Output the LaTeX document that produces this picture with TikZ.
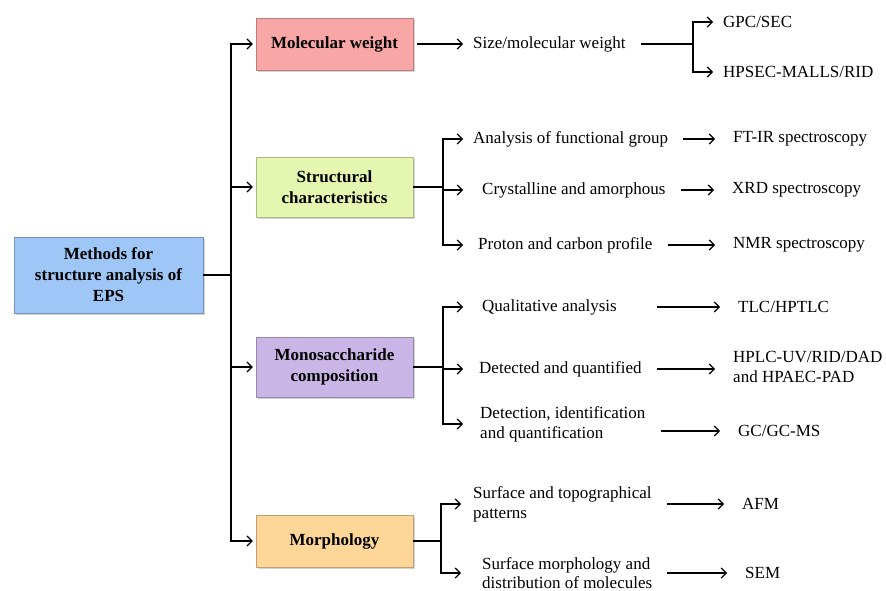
\documentclass[tikz,border=0pt]{standalone}
\usepackage{fontspec}
\setmainfont{Liberation Serif}
\usetikzlibrary{shadows,arrows.meta}
\definecolor{mainblue}{RGB}{158,198,246}
\definecolor{mwpink}{RGB}{249,166,166}
\definecolor{stgreen}{RGB}{228,246,176}
\definecolor{molilac}{RGB}{202,182,230}
\definecolor{mporange}{RGB}{253,214,152}

\begin{document}
\begin{tikzpicture}[x=1pt,y=-1pt,font=\fontsize{17}{20}\selectfont,
    box/.style={draw=#1!75!black,line width=0.4pt,fill=#1,align=center,
      font=\fontsize{17}{21}\selectfont\bfseries,
      minimum width=157pt,minimum height=52pt,inner sep=2pt,
      drop shadow={opacity=0.35,shadow xshift=1.5pt,shadow yshift=-2pt}},
    txt/.style={anchor=west,align=left,inner sep=3pt},
    con/.style={line width=1.2pt},
    arr/.style={con,-{Straight Barb[length=5pt,width=10pt]}},
    res/.style={arr,shorten <=12pt,shorten >=15pt}]
          \useasboundingbox (0,0) rectangle (886,591);
          \node[box=mainblue,minimum width=189pt,minimum height=76pt] (main) at (108.5,275) {Methods for\\structure analysis of\\EPS};
          \node[box=mwpink] (mw) at (334.5,44) {Molecular weight};
          \node[box=stgreen,minimum height=60pt] (st) at (334.5,187) {Structural\\characteristics};
          \node[box=molilac,minimum height=60pt] (mo) at (334.5,367) {Monosaccharide\\composition};
          \node[box=mporange] (mp) at (334.5,541) {Morphology};
          \coordinate (tr) at (231,275);
          \draw[con] (main.east) -- (tr);
          \foreach \b in {mw,st,mo,mp}
            \draw[arr,shorten >=3pt] (tr) |- (\b.west);
          \node[txt] (sz) at (470,44) {Size/molecular weight};
          \node[txt] (gpc) at (720,22) {GPC/SEC};
          \node[txt] (hp) at (720,72) {HPSEC-MALLS/RID};
          \coordinate (b1) at (693,44);
          \draw[arr,shorten <=4pt,shorten >=7pt] (mw.east) -- (sz.west);
          \draw[con,shorten <=12pt] (sz.east) -- (b1);
          \foreach \t in {gpc,hp}
            \draw[arr] (b1) |- ([xshift=20pt]b1 |- \t.west);
          \node[txt] (fg) at (470,139) {Analysis of functional group};
          \node[txt] (cr) at (479,190) {Crystalline and amorphous};
          \node[txt] (pr) at (475,245) {Proton and carbon profile};
          \node[txt] (ft) at (730,139) {FT-IR spectroscopy};
          \node[txt] (xr) at (729,190) {XRD spectroscopy};
          \node[txt] (nm) at (730,245) {NMR spectroscopy};
          \coordinate (b2) at (443,187);
          \draw[con] (st.east) -- (b2);
          \foreach \t in {fg,cr,pr}
            \draw[arr] (b2) |- ([xshift=20pt]b2 |- \t.west);
          \draw[res] (fg) -- (ft);
          \draw[res] (cr) -- (xr);
          \draw[res] (pr) -- (nm);
          \node[txt] (ql) at (479,307) {Qualitative analysis};
          \node[txt] (dq) at (476,369) {Detected and quantified};
          \node[txt] (dt) at (477,424) {Detection, identification\\and quantification};
          \node[txt] (tl) at (735,307) {TLC/HPTLC};
          \node[txt] (hplc) at (730,367) {HPLC-UV/RID/DAD\\and HPAEC-PAD};
          \node[txt] (gc) at (735,431) {GC/GC-MS};
          \coordinate (b3) at (443,367);
          \draw[con] (mo.east) -- (b3);
          \foreach \t in {ql,dq,dt}
            \draw[arr] (b3) |- ([xshift=20pt]b3 |- \t.west);
          \draw[res] (ql.east -| dq.east) -- (tl);
          \draw[res] (dq) -- (dq -| hplc.west);
          \draw[res] (dt.east |- gc) -- (gc);
          \node[txt] (sf) at (470,504) {Surface and topographical\\patterns};
          \node[txt,font=\fontsize{17}{19}\selectfont] (sm) at (479,573) {Surface morphology and\\distribution of molecules};
          \node[txt] (af) at (739,504) {AFM};
          \node[txt] (se) at (742,573) {SEM};
          \coordinate (b4) at (441,541);
          \draw[con] (mp.east) -- (b4);
          \foreach \t in {sf,sm}
            \draw[arr] (b4) |- ([xshift=20pt]b4 |- \t.west);
          \draw[res] (sf) -- (af);
          \draw[res] (sm) -- (se);
        \end{tikzpicture}
\end{document}
